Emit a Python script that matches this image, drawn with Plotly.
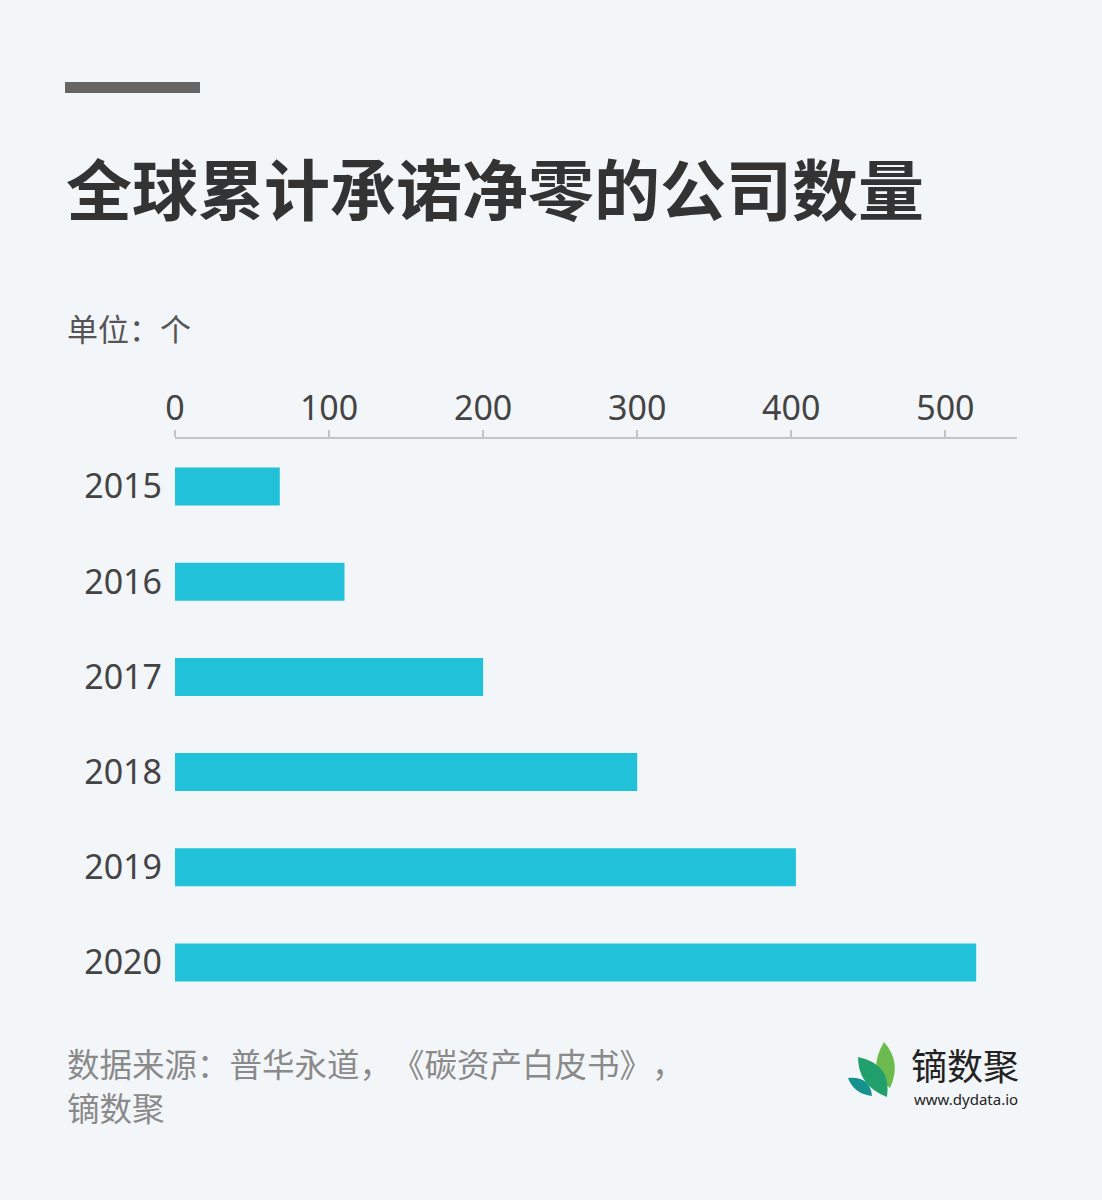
import plotly.graph_objects as go

years = ["2015", "2016", "2017", "2018", "2019", "2020"]
companies = [68, 110, 200, 300, 403, 520]
x_ticks = [0, 100, 200, 300, 400, 500]

title_text = "全球累计承诺净零的公司数量"
unit_text = "单位：个"
# U+200B keeps the browser from squeezing adjacent full-width punctuation
source_line1 = "数据来源：普华永道，\u200b《碳资产白皮书》\u200b，"
source_line2 = "镝数聚"
logo_name = "镝数聚"
logo_url = "www.dydata.io"

W, H = 1102, 1200
L, R, T, B = 175, 1017, 439, 1010
BG = "#F3F6F9"
FONT = "Noto Sans, Noto Sans CJK SC, sans-serif"
CJK = "Noto Sans CJK SC, Noto Sans, sans-serif"


def px(x):
    return (x - L) / (R - L)


def py(y):
    return (B - y) / (B - T)


fig = go.Figure()
fig.add_trace(go.Bar(
    x=companies, y=years, orientation="h",
    marker=dict(color="#21C1DA", line=dict(width=0)),
    hoverinfo="x+y",
))

annotations = [
    dict(text="<b>" + title_text + "</b>", x=px(64), y=py(186), xanchor="left", yanchor="middle",
         font=dict(family=CJK, size=66, color="#333333")),
    dict(text=unit_text, x=px(65), y=py(327), xanchor="left", yanchor="middle",
         font=dict(family=CJK, size=31, color="#555555")),
    dict(text=source_line1, x=px(65), y=py(1062), xanchor="left", yanchor="middle",
         font=dict(family=CJK, size=32.5, color="#8A8A8A")),
    dict(text=source_line2, x=px(65), y=py(1106), xanchor="left", yanchor="middle",
         font=dict(family=CJK, size=32.5, color="#8A8A8A")),
    dict(text=logo_name, x=px(909), y=py(1064), xanchor="left", yanchor="middle",
         font=dict(family=CJK, size=36, color="#222222")),
    dict(text=logo_url, x=px(912), y=py(1099), xanchor="left", yanchor="middle",
         font=dict(family=FONT, size=15, color="#222222")),
]
for a in annotations:
    a.update(xref="paper", yref="paper", showarrow=False)


def path(points_cmds):
    out = []
    for cmd, pts in points_cmds:
        coords = " ".join(f"{px(x):.5f},{py(y):.5f}" for x, y in pts)
        out.append(f"{cmd}{coords}")
    return " ".join(out) + " Z"


shapes = [
    dict(type="rect", xref="paper", yref="paper", x0=px(65), x1=px(200), y0=py(82), y1=py(93),
         fillcolor="#666666", line=dict(width=0)),
    # logo leaves
    dict(type="path", xref="paper", yref="paper", fillcolor="#6DBB4F", line=dict(width=0),
         path=path([("M", [(884, 1042)]), ("Q", [(902, 1062), (890, 1088)]),
                    ("Q", [(866, 1072), (884, 1042)])])),
    dict(type="path", xref="paper", yref="paper", fillcolor="#22A06B", line=dict(width=0),
         path=path([("M", [(858, 1057)]), ("Q", [(892, 1064), (887, 1097)]),
                    ("Q", [(858, 1086), (858, 1057)])])),
    dict(type="path", xref="paper", yref="paper", fillcolor="#15918F", line=dict(width=0),
         path=path([("M", [(848, 1078)]), ("Q", [(870, 1076), (872, 1096)]),
                    ("Q", [(854, 1094), (848, 1078)])])),
]

fig.update_layout(
    width=W, height=H,
    margin=dict(l=L, r=W - R, t=T, b=H - B, pad=0),
    paper_bgcolor=BG, plot_bgcolor=BG,
    showlegend=False,
    bargap=0.6,
    annotations=annotations,
    shapes=shapes,
    xaxis=dict(
        side="top", range=[0, 546.5], tickvals=x_ticks, ticktext=[str(v) for v in x_ticks],
        showline=True, linecolor="#C4C4C4", linewidth=2,
        ticks="outside", ticklen=7, tickwidth=1.5, tickcolor="#C4C4C4",
        showgrid=False, zeroline=False, fixedrange=True,
        tickfont=dict(family=FONT, size=34, color="#444444"),
        ticklabelstandoff=-4,
    ),
    yaxis=dict(
        categoryorder="array", categoryarray=years, autorange="reversed",
        showline=False, showgrid=False, zeroline=False, ticks="", fixedrange=True,
        tickfont=dict(family=FONT, size=34, color="#444444"),
        ticklabelstandoff=12,
    ),
)

fig.write_html("out.html", config={"displayModeBar": False},
               post_script="document.body.style.margin='0';")
